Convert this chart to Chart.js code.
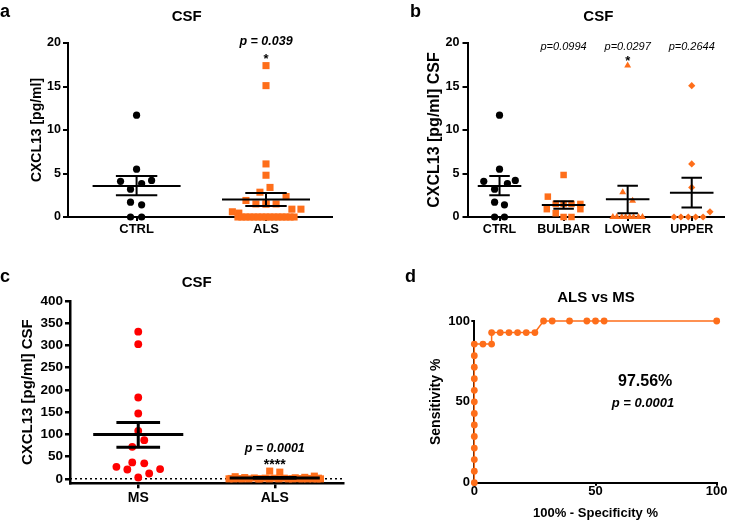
<!DOCTYPE html>
<html><head><meta charset="utf-8">
<script src="https://cdn.jsdelivr.net/npm/chart.js@4.4.0/dist/chart.umd.min.js"></script>
<style>
html,body{margin:0;padding:0;background:#fff;width:729px;height:521px;overflow:hidden;position:relative}
canvas{position:absolute;display:block}
</style></head><body>
<canvas id="ca" width="360" height="250" style="left:0;top:0;width:360px;height:250px"></canvas>
<canvas id="cb" width="369" height="250" style="left:360px;top:0;width:369px;height:250px"></canvas>
<canvas id="cc" width="360" height="271" style="left:0;top:250px;width:360px;height:271px"></canvas>
<canvas id="cd" width="369" height="271" style="left:360px;top:250px;width:369px;height:271px"></canvas>
<script>
// ---------------- DATA ----------------
// panel a
const catsA = ['CTRL', 'ALS'];
const ctrlValues = [11.7, 5.5, 4.1, 4.2, 3.85, 3.2, 1.7, 1.4, 0, 0];
const alsValues = [17.4, 15.1, 6.1, 4.8, 3.4, 2.85, 2.35, 1.9, 1.5, 1.5, 1.5, 1.5, 0.9, 0.9, 0.6, 0.45,
                   0, 0, 0, 0, 0, 0, 0, 0, 0, 0, 0, 0, 0, 0, 0];
const meanA = [3.56, 2.02];
const semHiA = [4.7, 2.77];
const semLoA = [2.5, 1.27];
const yTicksA = [0, 5, 10, 15, 20];

// panel b
const catsB = ['CTRL', 'BULBAR', 'LOWER', 'UPPER'];
const bulbarValues = [4.83, 2.34, 1.5, 1.5, 1.5, 1.5, 0.9, 0.9, 0.43, 0, 0];
const lowerValues = [17.4, 2.84, 1.88, 0, 0, 0, 0, 0, 0, 0, 0];
const upperValues = [15.1, 6.1, 3.4, 0.6, 0, 0, 0, 0, 0];
const meanB = [3.56, 1.38, 2.03, 2.8];
const semHiB = [4.7, 1.8, 3.6, 4.5];
const semLoB = [2.5, 0.95, 0.42, 1.1];
const pLabelsB = ['', 'p=0.0994', 'p=0.0297', 'p=0.2644'];
const yTicksB = [0, 5, 10, 15, 20];

// panel c
const catsC = ['MS', 'ALS'];
const msValues = [331, 303, 183, 147, 108, 87, 72, 37, 35, 27, 22, 21, 12, 3];
const meanC = [99.6, 2.02];
const semHiC = [127, 2.77];
const semLoC = [71, 1.27];
const yTicksC = [0, 50, 100, 150, 200, 250, 300, 350, 400];

// panel d (ROC)
const rocX = [0, 0, 0, 0, 0, 0, 0, 0, 0, 0, 0, 0, 0,
              3.57, 7.14, 7.14, 10.71, 14.29, 17.86, 21.43, 25.0, 28.57, 32.14, 39.29, 46.43, 50.0, 53.57, 100];
const rocY = [0, 7.14, 14.29, 21.43, 28.57, 35.71, 42.86, 50, 57.14, 64.29, 71.43, 78.57, 85.71,
              85.71, 85.71, 92.86, 92.86, 92.86, 92.86, 92.86, 92.86, 100, 100, 100, 100, 100, 100, 100];
const rocTicks = [0, 50, 100];

// ---------------- LAYOUT (scatter jitter, in category units) ----------------
const jitCtrlA = [0, 0, -0.124, 0.116, 0.039, -0.047, -0.047, 0.039, -0.047, 0.039];
const jitAlsA = [0, 0, 0, 0, 0.031, -0.047, 0.155, -0.155, -0.078, 0, 0.078, 0, 0.2, 0.27, -0.26, -0.21,
                 -0.217, -0.186, -0.155, -0.124, -0.093, -0.062, -0.031, 0, 0.031, 0.062, 0.093, 0.124, 0.155, 0.186, 0.217];
const jitCtrlB = [0, 0, -0.246, 0.246, 0.123, -0.077, -0.077, 0.077, -0.077, 0.077];
const jitBulbar = [0, -0.246, -0.123, 0, 0.123, 0.262, -0.262, 0.262, -0.123, 0, 0.123];
const jitLower = [0, -0.077, 0.077, -0.231, -0.169, -0.092, -0.031, 0.031, 0.092, 0.169, 0.231];
const jitUpper = [0, 0, 0, 0.285, -0.277, -0.169, -0.054, 0.062, 0.177];
const jitMs = [0, 0, 0, 0, 0, 0.044, -0.044, -0.044, 0.044, -0.16, 0.16, -0.08, 0.08, 0];
const jitAlsC = [-0.037, 0.037, 0.29, -0.29, 0.22, -0.22, 0.15, -0.15, 0.07, -0.07, 0, 0.32, -0.32, 0.26, -0.26, 0.18,
                 -0.335, -0.3, -0.24, -0.19, -0.12, -0.04, 0.03, 0.1, 0.13, 0.2, 0.24, 0.28, 0.31, 0.335, -0.11];

// ---------------- HELPERS ----------------
const FONT = "'Liberation Sans', Arial, Helvetica, sans-serif";
const ORANGE = '#fe6e1a', RED = '#ff0000', BLACK = '#000000';
Chart.defaults.font.family = FONT;
Chart.defaults.color = BLACK;
Chart.defaults.animation = false;

function pts(values, jitter, cat) { return values.map((v, i) => ({x: cat + jitter[i], y: v})); }

function errBars(means, hi, lo, mh, ch) {
  const p = [];
  means.forEach((m, i) => {
    p.push({x: i - mh, y: m}, {x: i + mh, y: m}, {x: i, y: null});
    p.push({x: i - ch, y: hi[i]}, {x: i + ch, y: hi[i]}, {x: i, y: null});
    p.push({x: i - ch, y: lo[i]}, {x: i + ch, y: lo[i]}, {x: i, y: null});
    p.push({x: i, y: lo[i]}, {x: i, y: hi[i]}, {x: i, y: null});
  });
  return p;
}

function pointSet(data, color, style, r) {
  return {data, pointStyle: style, pointRadius: r, pointHoverRadius: r, pointBackgroundColor: color,
          pointBorderWidth: 0, pointBorderColor: color, showLine: false, clip: false};
}
function lineSet(data, color, width, dash) {
  return {data, showLine: true, borderColor: color, borderWidth: width, borderDash: dash || [], pointRadius: 0,
          spanGaps: false, clip: false, borderCapStyle: 'butt'};
}

function annot(items) {
  return {
    id: 'annot',
    afterDraw(chart) {
      const ctx = chart.ctx;
      items.forEach(it => {
        let x = it.x, y = it.y;
        if (it.data) { x = chart.scales.x.getPixelForValue(it.x); y = chart.scales.y.getPixelForValue(it.y); }
        ctx.save();
        ctx.font = it.font + ' ' + FONT;
        ctx.fillStyle = BLACK;
        ctx.textAlign = it.align || 'center';
        ctx.textBaseline = it.base || 'middle';
        ctx.fillText(it.text, x, y);
        ctx.restore();
      });
    }
  };
}

function yAxis(o) {
  return {
    type: 'linear', position: 'left', min: o.min, max: o.max,
    afterBuildTicks: s => { s.ticks = o.ticks.map(v => ({value: v})); },
    afterFit: s => { s.width = o.width; },
    ticks: {font: {size: o.tickSize, weight: 'bold'}, padding: o.tickPad, color: BLACK, autoSkip: false},
    grid: {drawOnChartArea: false, drawTicks: true, tickLength: o.tickLen, color: BLACK, lineWidth: o.lw},
    border: {display: true, color: BLACK, width: o.lw},
    title: {display: true, text: o.title, color: BLACK, font: {size: o.titleSize, weight: 'bold'}, padding: {top: 0, bottom: 0}}
  };
}
function xAxis(o) {
  return {
    type: 'linear', position: 'bottom', min: o.min, max: o.max,
    afterBuildTicks: s => { s.ticks = o.ticks.map(v => ({value: v})); },
    afterFit: s => { s.height = o.height; },
    ticks: {font: {size: o.tickSize, weight: 'bold', lineHeight: o.lh || 1.2}, padding: o.tickPad, color: BLACK,
            autoSkip: false, maxRotation: 0, minRotation: 0,
            callback: o.cats ? (v => o.cats[v]) : (v => String(v))},
    grid: {drawOnChartArea: false, drawTicks: true, tickLength: o.tickLen, color: BLACK, lineWidth: o.lw},
    border: {display: true, color: BLACK, width: o.lw},
    title: o.title ? {display: true, text: o.title, color: BLACK, font: {size: o.titleSize, weight: 'bold'}, padding: {top: 0, bottom: 0}} : {display: false}
  };
}

function make(id, datasets, x, y, padding, items) {
  return new Chart(document.getElementById(id), {
    type: 'scatter',
    data: {datasets},
    options: {
      responsive: false, animation: false, events: [],
      layout: {padding},
      plugins: {legend: {display: false}, tooltip: {enabled: false}, title: {display: false}},
      scales: {x, y}
    },
    plugins: [annot(items)]
  });
}

// ---------------- PANEL A ----------------
make('ca', [
  lineSet(errBars(meanA, semHiA, semLoA, 0.34, 0.16), BLACK, 2),
  pointSet(pts(ctrlValues, jitCtrlA, 0), BLACK, 'circle', 3.6),
  pointSet(pts(alsValues, jitAlsA, 1), ORANGE, 'rect', 5)
],
  xAxis({min: -0.53, max: 1.51, ticks: [0, 1], cats: catsA, height: 33, tickSize: 13, tickPad: 1, tickLen: 4, lw: 2}),
  yAxis({min: 0, max: 20, ticks: yTicksA, width: 39.7, tickSize: 12.5, tickPad: 2, tickLen: 5, lw: 2, title: 'CXCL13 [pg/ml]', titleSize: 14}),
  {left: 28.3, right: 28, top: 43, bottom: 0},
  [
    {text: 'a', x: 0, y: 16.7, font: 'bold 18px', align: 'left', base: 'alphabetic'},
    {text: 'CSF', x: 186.7, y: 16.7, font: 'bold 15px'},
    {text: 'p = 0.039', data: true, x: 1, y: 20.15, font: 'italic bold 12.5px'},
    {text: '*', data: true, x: 1, y: 18.16, font: 'bold 13px'}
  ]);

// ---------------- PANEL B ----------------
make('cb', [
  lineSet(errBars(meanB, semHiB, semLoB, 0.34, 0.16), BLACK, 2),
  pointSet(pts(ctrlValues, jitCtrlB, 0), BLACK, 'circle', 3.6),
  pointSet(pts(bulbarValues, jitBulbar, 1), ORANGE, 'rect', 4.6),
  pointSet(pts(lowerValues, jitLower, 2), ORANGE, 'triangle', 4),
  pointSet(pts(upperValues, jitUpper, 3), ORANGE, 'rectRot', 3.6)
],
  xAxis({min: -0.5, max: 3.51, ticks: [0, 1, 2, 3], cats: catsB, height: 33, tickSize: 12.5, tickPad: 1, tickLen: 4, lw: 2}),
  yAxis({min: 0, max: 20, ticks: yTicksB, width: 42.1, tickSize: 12.5, tickPad: 3, tickLen: 5, lw: 2, title: 'CXCL13 [pg/ml] CSF', titleSize: 16}),
  {left: 65.4, right: 1, top: 43, bottom: 0},
  [
    {text: 'b', x: 50, y: 16.7, font: 'bold 18px', align: 'left', base: 'alphabetic'},
    {text: 'CSF', x: 238.3, y: 16.7, font: 'bold 15px'},
    ...pLabelsB.map((t, i) => ({text: t, data: true, x: i, y: 19.6, font: 'italic 11px'})),
    {text: '*', data: true, x: 2, y: 17.93, font: 'bold 13px'}
  ]);

// ---------------- PANEL C ----------------
make('cc', [
  lineSet(errBars(meanC, semHiC, semLoC, 0.33, 0.16), BLACK, 3),
  pointSet(pts(msValues, jitMs, 0), RED, 'circle', 3.9),
  pointSet(pts(alsValues, jitAlsC, 1), ORANGE, 'rect', 5),
  lineSet([{x: -0.5, y: 0}, {x: 1.5, y: 0}], BLACK, 1.5, [2, 3])
],
  xAxis({min: -0.5, max: 1.5, ticks: [0, 1], cats: catsC, height: 37.7, tickSize: 14, tickPad: 1.6, tickLen: 5, lw: 2.5}),
  yAxis({min: -10, max: 400, ticks: yTicksC, width: 51, tickSize: 13.5, tickPad: 2, tickLen: 5, lw: 2.5, title: 'CXCL13 [pg/ml] CSF', titleSize: 15}),
  {left: 19, right: 17, top: 51, bottom: 0},
  [
    {text: 'c', x: 0, y: 31.7, font: 'bold 18px', align: 'left', base: 'alphabetic'},
    {text: 'CSF', x: 196.7, y: 33.3, font: 'bold 15px'},
    {text: 'p = 0.0001', data: true, x: 1, y: 69, font: 'italic bold 12.5px'},
    {text: '****', data: true, x: 1, y: 30.8, font: 'bold 14px'}
  ]);

// ---------------- PANEL D ----------------
make('cd', [
  Object.assign(lineSet(rocX.map((v, i) => ({x: v, y: rocY[i]})), ORANGE, 1.5), {
    pointRadius: 3.4, pointHoverRadius: 3.4, pointBackgroundColor: ORANGE, pointBorderWidth: 0, pointStyle: 'circle'})
],
  xAxis({min: 0, max: 100, ticks: rocTicks, height: 38.3, tickSize: 13, tickPad: -1, tickLen: 3, lw: 2, lh: 1,
         title: '100% - Specificity %', titleSize: 13}),
  yAxis({min: 0, max: 100, ticks: rocTicks, width: 46.7, tickSize: 13, tickPad: 1.3, tickLen: 3, lw: 2, title: 'Sensitivity %', titleSize: 14}),
  {left: 67.6, right: 12.3, top: 71, bottom: 0},
  [
    {text: 'd', x: 45, y: 31.7, font: 'bold 18px', align: 'left', base: 'alphabetic'},
    {text: 'ALS vs MS', x: 236, y: 47.7, font: 'bold 15px'},
    {text: '97.56%', data: true, x: 70.5, y: 62.5, font: 'bold 16px'},
    {text: 'p = 0.0001', data: true, x: 69.6, y: 49.1, font: 'italic bold 13px'}
  ]);
</script>
</body></html>
